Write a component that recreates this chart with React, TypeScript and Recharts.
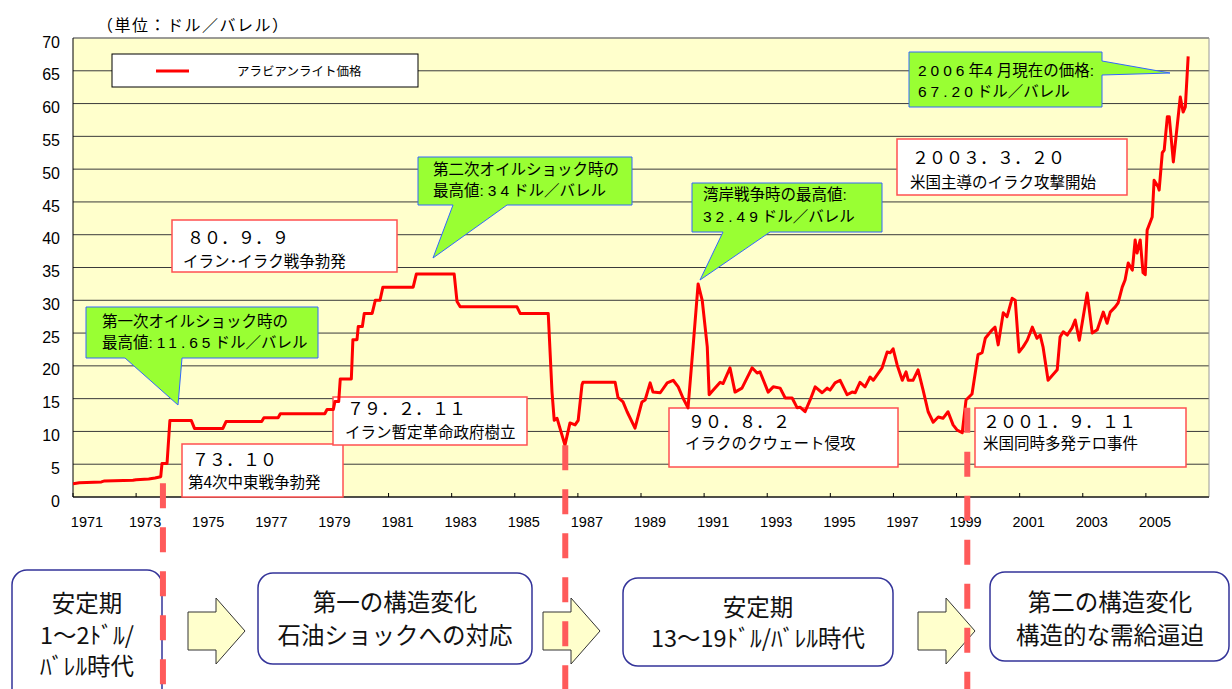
import React from 'react';
import { LineChart, Line, XAxis, YAxis, CartesianGrid, ReferenceLine } from 'recharts';

// ---- Data (decimal year, USD/bbl) ----
const yearsA = [1971.00,1971.20,1971.90,1972.00,1972.90,1973.00,1973.40,1973.60,1973.78,1973.82,1973.98,1974.07,1974.75,1974.85,1975.75,1975.85,1976.98,1977.05,1977.50,1977.57,1978.98,1979.05,1979.25,1979.30,1979.42,1979.47,1979.82,1979.87,1980.00,1980.04,1980.17,1980.23,1980.48,1980.58,1980.73,1980.82,1981.78,1981.88,1983.08,1983.17,1983.27,1985.07,1985.17,1986.06,1986.18,1986.25,1986.34,1986.59,1986.75,1986.91,1987.01,1987.13,1987.16,1988.18,1988.27,1988.43,1988.56,1988.81,1989.03,1989.13,1989.29,1989.38,1989.61];
const pricesA = [2.00,2.18,2.30,2.45,2.55,2.62,2.75,2.90,3.10,5.10,5.12,11.65,11.65,10.46,10.46,11.51,11.51,12.09,12.09,12.70,12.70,13.34,13.34,14.55,14.55,18.00,18.00,24.00,24.00,26.00,26.00,28.00,28.00,30.00,30.00,32.00,32.00,34.00,34.00,29.80,29.00,29.00,28.00,28.00,16.00,11.70,12.00,7.90,11.30,11.00,11.70,17.10,17.50,17.50,15.20,14.50,13.00,10.50,14.50,14.80,17.40,16.00,15.90];

const yearsB = [1989.83,1990.02,1990.18,1990.33,1990.49,1990.65,1990.81,1990.94,1991.10,1991.16,1991.29,1991.51,1991.60,1991.82,1991.98,1992.20,1992.52,1992.68,1992.77,1993.03,1993.19,1993.41,1993.57,1993.79,1993.95,1994.04,1994.20,1994.36,1994.52,1994.74,1994.90,1994.99,1995.15,1995.31,1995.53,1995.69,1995.79,1995.94,1996.10,1996.26,1996.36,1996.64,1996.80,1996.90,1996.99,1997.12,1997.28,1997.40,1997.47,1997.62,1997.78,1997.94,1998.10,1998.26,1998.42,1998.57,1998.73,1998.89,1999.02,1999.18];
const pricesB = [17.4,17.8,16.8,15.1,13.6,22.9,32.49,30.0,22.9,15.6,16.3,17.5,17.3,19.7,16.0,16.6,19.7,18.9,19.1,16.0,16.8,16.6,15.1,15.1,13.6,13.7,13.0,14.8,16.8,15.9,16.6,16.3,17.4,17.8,15.6,16.0,15.9,17.5,16.8,18.3,17.8,19.7,22.1,22.0,22.6,20.1,17.8,19.1,17.8,17.8,19.4,16.3,13.0,11.4,12.2,12.0,13.0,11.0,10.2,9.8];

const yearsC = [1999.30,1999.49,1999.68,1999.81,1999.91,2000.13,2000.22,2000.32,2000.48,2000.60,2000.76,2000.86,2000.98,2001.11,2001.24,2001.40,2001.55,2001.65,2001.74,2001.90,2002.19,2002.28,2002.38,2002.51,2002.66,2002.76,2002.89,2003.14,2003.30,2003.46,2003.65,2003.77,2003.87,2004.03,2004.12,2004.25,2004.34,2004.44,2004.57,2004.66,2004.72,2004.82,2004.91,2004.98,2005.04,2005.20,2005.26,2005.39,2005.42,2005.52,2005.58,2005.68,2005.74,2005.87,2006.09,2006.18,2006.25,2006.34];
const pricesC = [14.8,15.7,21.7,22.0,24.2,25.5,25.9,23.2,28.1,27.5,30.3,30.0,22.1,22.9,23.9,25.9,24.2,24.7,22.9,17.8,19.4,24.4,25.2,24.7,25.8,27.0,23.9,31.1,25.0,25.5,28.2,26.5,28.2,29.0,29.6,32.0,33.1,35.7,34.6,39.2,37.2,39.2,34.2,33.9,40.7,42.7,48.3,47.3,46.8,52.5,52.9,58.0,58.0,51.1,61.0,58.7,59.5,67.2];

const yearTicks = [1971,1973,1975,1977,1979,1981,1983,1985,1987,1989,1991,1993,1995,1997,1999,2001,2003,2005];
const priceTicks = [0,5,10,15,20,25,30,35,40,45,50,55,60,65,70];

// event dashed lines: year, starting price
const eventYears = [1973.85, 1986.6, 1999.34];
const eventStartPrices = [2.1, 7.9, 13.6];

const allYears = [...yearsA, ...yearsB, ...yearsC];
const allPrices = [...pricesA, ...pricesB, ...pricesC];
const data = allYears.map((t, i) => ({ t, price: allPrices[i] }));

const CJK = '"Noto Sans CJK JP", "Noto Sans CJK SC", sans-serif';
const LAT = '"Liberation Sans", Arial, sans-serif';

const W = 1232;
const H = 689;
const MARGIN = { top: 38, right: 23, left: 0, bottom: 159 };

const XTick = (props: any) => {
  const { x, y, payload } = props;
  const dx = payload.value === 1971 ? 14 : 9;
  return (
    <g>
      <line x1={x} x2={x} y1={y - 4} y2={y} stroke="#000" strokeWidth={1} />
      <text x={x + dx} y={y + 30} textAnchor="middle" fontSize={14.5} fontFamily={LAT} fill="#000">
        {payload.value}
      </text>
    </g>
  );
};

const YTick = (props: any) => {
  const { x, y, payload } = props;
  return (
    <text x={x - 13} y={y + 4} dy="0.35em" textAnchor="end" fontSize={16} fontFamily={LAT} fill="#000">
      {payload.value}
    </text>
  );
};

const D = (p: { children: any }) => (
  <tspan fontFamily={LAT} letterSpacing={4}>{p.children}</tspan>
);

const Callout = (p: { d: string; x: number; y1: number; y2: number; l1: any; l2: any }) => (
  <g>
    <path d={p.d} fill="#99FF33" stroke="#3366FF" strokeWidth={1} />
    <text x={p.x} y={p.y1} fontSize={15.5} fontFamily={CJK} fill="#000">{p.l1}</text>
    <text x={p.x} y={p.y2} fontSize={15.5} fontFamily={CJK} fill="#000">{p.l2}</text>
  </g>
);

const EventBox = (p: { x: number; y: number; w: number; h: number; tx1: number; ty1: number; tx2: number; ty2: number; l1: string; l2: any }) => (
  <g>
    <rect x={p.x} y={p.y} width={p.w} height={p.h} fill="#fff" stroke="#FF5050" strokeWidth={1.5} />
    <text x={p.tx1} y={p.ty1} fontSize={17} fontFamily={CJK} fill="#000">{p.l1}</text>
    <text x={p.tx2} y={p.ty2} fontSize={15.5} fontFamily={CJK} fill="#000">{p.l2}</text>
  </g>
);

const PeriodBox = (p: { x: number; y: number; w: number; h: number; cx: number; lines: string[]; ys: number[] }) => (
  <g>
    <rect x={p.x} y={p.y} width={p.w} height={p.h} rx={15} ry={15} fill="#fff" stroke="#333399" strokeWidth={1.5} />
    {p.lines.map((l, i) => (
      <text key={i} x={p.cx} y={p.ys[i]} textAnchor="middle" fontSize={23.5} fontFamily={CJK} fill="#111">{l}</text>
    ))}
  </g>
);

const Arrow = (p: { x: number }) => {
  const x = p.x;
  return (
    <path
      d={`M${x},612 H${x + 28} V598 L${x + 57},631 L${x + 28},664 V650 H${x} Z`}
      fill="#FFFFCC"
      stroke="#333"
      strokeWidth={1}
    />
  );
};

export default function App() {
  return (
    <div style={{ position: 'absolute', left: 0, top: 0, width: W, height: H, background: '#fff', overflow: 'hidden' }}>
      {/* Layer 1: background, grid, axes */}
      <div style={{ position: 'absolute', left: 0, top: 0 }}>
        <LineChart width={W} height={H} data={data} margin={MARGIN}>
          <CartesianGrid vertical={false} stroke="#3a3a3a" fill="#FFFFCC" fillOpacity={1} />
          <XAxis
            dataKey="t"
            type="number"
            domain={[1971, 2007]}
            allowDataOverflow
            ticks={yearTicks}
            interval={0}
            height={33}
            tickSize={0}
            tickMargin={0}
            tickLine={false}
            axisLine={{ stroke: '#000' }}
            tick={<XTick />}
          />
          <YAxis
            type="number"
            domain={[0, 70]}
            allowDataOverflow
            ticks={priceTicks}
            interval={0}
            width={73}
            tickSize={0}
            tickMargin={0}
            tickLine={false}
            axisLine={{ stroke: '#000' }}
            tick={<YTick />}
          />
          <ReferenceLine y={70} stroke="#999" strokeWidth={1} />
          <ReferenceLine x={2007} stroke="#999" strokeWidth={1} />
          <Line dataKey="price" stroke="transparent" dot={false} isAnimationActive={false} />
        </LineChart>
      </div>

      {/* Layer 2: annotations */}
      <svg width={W} height={H} style={{ position: 'absolute', left: 0, top: 0 }}>
        <text x={97} y={31} fontSize={16} letterSpacing={1.5} fontFamily={CJK} fill="#000">（単位：ドル／バレル）</text>

        {/* legend */}
        <rect x={112} y={54} width={306} height={33} fill="#fff" stroke="#000" strokeWidth={1} />
        <line x1={156} x2={189} y1={71} y2={71} stroke="#FF0000" strokeWidth={3} />
        <text x={237} y={75.5} fontSize={12.5} fontFamily={CJK} fill="#000">アラビアンライト価格</text>

        {/* event boxes */}
        <EventBox x={182} y={444} w={161} h={53} tx1={192} ty1={466} tx2={188} ty2={488} l1="７３．１０" l2="第4次中東戦争勃発" />
        <EventBox x={172} y={220} w={225} h={52} tx1={187} ty1={244} tx2={183} ty2={267} l1="８０．９．９" l2="イラン･イラク戦争勃発" />
        <EventBox x={333} y={397} w={194} h={48} tx1={347} ty1={415} tx2={345} ty2={438} l1="７９．２．１１" l2="イラン暫定革命政府樹立" />
        <EventBox x={669} y={408} w={229} h={59} tx1={688} ty1={428} tx2={685} ty2={449} l1="９０．８．２" l2="イラクのクウェート侵攻" />
        <EventBox x={897} y={139} w={230} h={56} tx1={912} ty1={164} tx2={910} ty2={188} l1="２００３．３．２０" l2="米国主導のイラク攻撃開始" />
        <EventBox x={975} y={408} w={211} h={59} tx1={983} ty1={428} tx2={983} ty2={449} l1="２００１．９．１１" l2="米国同時多発テロ事件" />

        {/* callouts */}
        <Callout
          d="M86,307 H318 V358 H182 L178,405 L125,358 H86 Z"
          x={102} y1={327} y2={348}
          l1="第一次オイルショック時の"
          l2={<>最高値<D>:11.65</D>ドル／バレル</>}
        />
        <Callout
          d="M418,157 H632 V205 H507 L433,258 L453,205 H418 Z"
          x={433} y1={175} y2={196}
          l1="第二次オイルショック時の"
          l2={<>最高値<D>:34</D>ドル／バレル</>}
        />
        <Callout
          d="M692,183 H882 V232 H770 L700,280 L723,232 H692 Z"
          x={703} y1={200} y2={222}
          l1={<>湾岸戦争時の最高値<D>:</D></>}
          l2={<><D>32.49</D>ドル／バレル</>}
        />
        <Callout
          d="M909,52 H1102 V61 L1170,73 L1102,75 V107 H909 Z"
          x={918} y1={76} y2={97}
          l1={<><D>2006</D>年<D>4</D>月現在の価格<D>:</D></>}
          l2={<><D>67.20</D>ドル／バレル</>}
        />

        {/* bottom period boxes and arrows */}
        <PeriodBox x={12} y={570} w={150} h={140} cx={87} lines={['安定期', '1～2ﾄﾞﾙ/', 'ﾊﾞﾚﾙ時代']} ys={[612, 644, 675]} />
        <Arrow x={188} />
        <PeriodBox x={258} y={573} w={274} h={91} cx={395} lines={['第一の構造変化', '石油ショックへの対応']} ys={[611, 644]} />
        <Arrow x={543} />
        <PeriodBox x={623} y={578} w={270} h={88} cx={758} lines={['安定期', '13～19ﾄﾞﾙ/ﾊﾞﾚﾙ時代']} ys={[616, 647]} />
        <Arrow x={918} />
        <PeriodBox x={990} y={572} w={239} h={89} cx={1110} lines={['第二の構造変化', '構造的な需給逼迫']} ys={[611, 644]} />
      </svg>

      {/* Layer 3: price line and event lines */}
      <div style={{ position: 'absolute', left: 0, top: 0 }}>
        <LineChart width={W} height={H} data={data} margin={MARGIN}>
          <XAxis
            dataKey="t"
            type="number"
            domain={[1971, 2007]}
            allowDataOverflow
            height={33}
            tick={false}
            tickLine={false}
            axisLine={false}
          />
          <YAxis
            type="number"
            domain={[0, 70]}
            allowDataOverflow
            width={73}
            tick={false}
            tickLine={false}
            axisLine={false}
          />
          <Line
            type="linear"
            dataKey="price"
            stroke="#FF0000"
            strokeWidth={3}
            strokeLinejoin="round"
            dot={false}
            activeDot={false}
            isAnimationActive={false}
          />
          {eventYears.map((ey, i) => (
            <ReferenceLine
              key={i}
              segment={[{ x: ey, y: eventStartPrices[i] }, { x: ey, y: -30 }]}
              stroke="#FF5A5A"
              strokeWidth={6}
              strokeDasharray="25 19"
              ifOverflow="visible"
            />
          ))}
        </LineChart>
      </div>
    </div>
  );
}
